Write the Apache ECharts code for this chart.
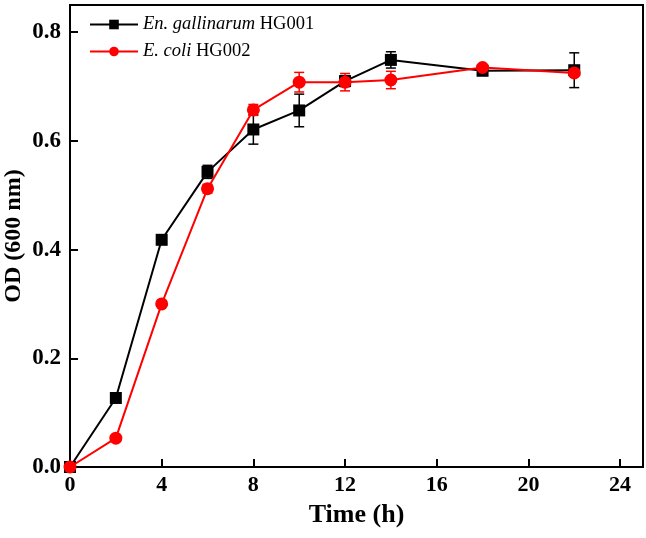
<!DOCTYPE html>
<html><head><meta charset="utf-8">
<script src="https://cdn.jsdelivr.net/npm/echarts@6/dist/echarts.min.js"></script>
<style>html,body{margin:0;padding:0;background:#fff}#c{width:646px;height:538px}</style>
</head><body><div id="c"></div>
<script>
var times = [0, 2, 4, 6, 8, 10, 12, 14, 18, 22];
var enValues = [0, 0.127, 0.418, 0.543, 0.621, 0.656, 0.710, 0.749, 0.729, 0.730];
var enErrors = [0, 0.004, 0.004, 0.012, 0.027, 0.030, 0.010, 0.015, 0.004, 0.032];
var ecValues = [0, 0.053, 0.300, 0.512, 0.657, 0.708, 0.708, 0.712, 0.735, 0.725];
var ecErrors = [0, 0.003, 0.003, 0.008, 0.010, 0.018, 0.016, 0.016, 0.004, 0.006];
var xTicks = [0, 4, 8, 12, 16, 20, 24];
var yTicks = [0.0, 0.2, 0.4, 0.6, 0.8];

function pairs(xs, ys){ return xs.map(function(x,i){return [x, ys[i]];}); }
function errData(xs, ys, es){ return xs.map(function(x,i){return [x, ys[i]-es[i], ys[i]+es[i]];}); }
function errSeries(data, color, z){
  return {
    type:'custom', z:z, silent:true,
    renderItem:function(params, api){
      var x = api.value(0);
      var lo = api.coord([x, api.value(1)]);
      var hi = api.coord([x, api.value(2)]);
      var w = 5;
      var st = {stroke:color, lineWidth:1.5};
      return {type:'group', children:[
        {type:'line', shape:{x1:lo[0],y1:lo[1],x2:hi[0],y2:hi[1]}, style:st},
        {type:'line', shape:{x1:lo[0]-w,y1:lo[1],x2:lo[0]+w,y2:lo[1]}, style:st},
        {type:'line', shape:{x1:hi[0]-w,y1:hi[1],x2:hi[0]+w,y2:hi[1]}, style:st}
      ]};
    },
    data:data
  };
}
var font = '"Liberation Serif","Times New Roman",serif';
var chart = echarts.init(document.getElementById('c'));
chart.setOption({
  animation:false,
  backgroundColor:'#fff',
  grid:{left:70, right:3, top:5, bottom:71, show:true, borderColor:'#000', borderWidth:2,
    containLabel:false, outerBoundsMode:'none'},
  legend:{
    left:84, top:10, orient:'vertical', itemWidth:48, itemHeight:12, itemGap:8,
    data:['en','ec'],
    formatter:function(n){ return n==='en' ? '{i|En. gallinarum} {n|HG001}' : '{i|E. coli} {n|HG002}'; },
    textStyle:{fontFamily:font, fontSize:18.5, color:'#000',
      rich:{i:{fontFamily:font, fontSize:18.5, fontStyle:'italic', color:'#000'}, n:{fontFamily:font, fontSize:18.5, color:'#000'}}}
  },
  xAxis:{
    type:'value', min:0, max:25, interval:4,
    name:'Time (h)', nameLocation:'middle', nameGap:35, nameMoveOverlap:false,
    nameTextStyle:{fontFamily:font, fontSize:26, fontWeight:'bold', color:'#000'},
    axisLine:{show:true, lineStyle:{color:'#000', width:2}},
    axisTick:{show:true, inside:true, length:8, lineStyle:{color:'#000', width:2},
      customValues:xTicks},
    axisLabel:{fontFamily:font, fontSize:22, fontWeight:'bold', color:'#000', margin:7,
      customValues:xTicks},
    splitLine:{show:false}
  },
  yAxis:{
    type:'value', min:0, max:0.85, interval:0.2,
    name:'OD (600 nm)', nameLocation:'middle', nameGap:44, nameMoveOverlap:false,
    nameTextStyle:{fontFamily:font, fontSize:24, fontWeight:'bold', color:'#000'},
    axisLine:{show:true, lineStyle:{color:'#000', width:2}},
    axisTick:{show:true, inside:true, length:8, lineStyle:{color:'#000', width:2},
      customValues:yTicks},
    axisLabel:{fontFamily:font, fontSize:23, fontWeight:'bold', color:'#000', margin:9,
      customValues:yTicks, formatter:function(v){return v.toFixed(1);}},
    splitLine:{show:false}
  },
  series:[
    errSeries(errData(times, enValues, enErrors), '#000', 3),
    {name:'en', type:'line', z:4, data:pairs(times, enValues), symbol:'rect', symbolSize:12,
      itemStyle:{color:'#000'}, lineStyle:{color:'#000', width:2}},
    errSeries(errData(times, ecValues, ecErrors), '#ff0000', 5),
    {name:'ec', type:'line', z:6, data:pairs(times, ecValues), symbol:'circle', symbolSize:13,
      itemStyle:{color:'#ff0000'}, lineStyle:{color:'#ff0000', width:2}}
  ]
});
</script></body></html>
